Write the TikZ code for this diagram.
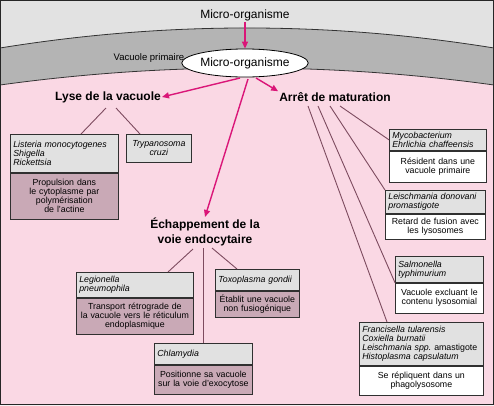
\documentclass[tikz,border=0pt]{standalone}
\usepackage{fontspec}
\setmainfont{Liberation Sans}
\usetikzlibrary{arrows.meta,shapes.geometric}
\definecolor{outergray}{HTML}{E2E2E2}
\definecolor{bandgray}{HTML}{B4B4B4}
\definecolor{pinkbg}{HTML}{FAD8E4}
\definecolor{spgray}{HTML}{E1E1E1}
\definecolor{mauve}{HTML}{C9A9B6}
\definecolor{conn}{HTML}{7D4B5F}
\definecolor{magent}{HTML}{DA1678}
\definecolor{boxline}{HTML}{303030}
\tikzset{
  arr/.style={draw=magent, line width=1.4pt, -{Triangle[length=7pt,width=6pt]}},
  cn/.style={draw=conn, line width=0.9pt},
  head/.style={font=\fontsize{12}{14.5}\selectfont\bfseries, align=center, inner sep=1pt},
  sp/.style={draw=boxline, line width=0.7pt, fill=spgray, anchor=north west, inner xsep=3pt, inner ysep=1pt, font=\fontsize{8.8}{8.8}\selectfont\itshape, align=left},
  dsm/.style={draw=boxline, line width=0.7pt, fill=mauve, anchor=north west, inner xsep=3pt, inner ysep=1pt, font=\fontsize{8.8}{9}\selectfont, align=center},
  dsw/.style={dsm, fill=white},
}
\begin{document}
\begin{tikzpicture}[x=1pt,y=-1pt]
\useasboundingbox (0,0) rectangle (494,405);
% background
\fill[outergray] (0,0) rectangle (494,405);
\fill[bandgray] (0,48) .. controls (165,21.3) and (329,21.3) .. (494,48) -- (494,405) -- (0,405) -- cycle;
\fill[pinkbg] (0,85) .. controls (165,62.3) and (329,62.3) .. (494,85) -- (494,405) -- (0,405) -- cycle;
\draw[line width=0.8pt, black!80] (0,48) .. controls (165,21.3) and (329,21.3) .. (494,48);
\draw[line width=0.8pt, black!80] (0,85) .. controls (165,62.3) and (329,62.3) .. (494,85);
\draw[line width=1.4pt, black!85] (0.7,0.7) rectangle (493.3,404.3);

% top
\node[font=\fontsize{12}{14}\selectfont, inner sep=1pt] (mo1) at (245,15) {Micro-organisme};
\node[ellipse, draw=black, line width=0.8pt, fill=white, minimum width=106pt, minimum height=28pt, inner sep=0pt, font=\fontsize{12}{14}\selectfont] (mo2) at (245,63) {Micro-organisme};
\node[font=\fontsize{9.5}{11}\selectfont, inner sep=0pt] (vp) at (149,58) {Vacuole primaire};
\draw[arr] (mo1.south) -- (mo2.north);

% headings
\node[head] (lyse) at (108,97) {Lyse de la vacuole};
\node[head] (arret) at (335,97) {Arrêt de maturation};
\node[head] (echap) at (205,232) {Échappement de la\\voie endocytaire};
\coordinate (s1) at (240,78);
\coordinate (s2) at (256,78);
\coordinate (s3) at (248,79);
\draw[arr] (s1) -- (lyse.east);
\draw[arr] (s2) -- (arret.north west);
\draw[arr] (s3) -- (echap.north);

% Lyse boxes
\node[sp, minimum width=108pt, text width=102pt, minimum height=38pt] (lis) at (10,134) {Listeria monocytogenes\\Shigella\\Rickettsia};
\node[dsm, minimum width=108pt, text width=102pt, minimum height=46pt] (lisd) at (lis.south west) {Propulsion dans\\le cytoplasme par\\polymérisation\\de l’actine};
\node[sp, minimum width=65pt, text width=59pt, minimum height=28pt, align=center] (try) at (126,134) {Trypanosoma\\cruzi};
\coordinate (l1) at (106,108);
\coordinate (l2) at (116,108);
\draw[cn] (l1) -- (lis.north -| 81,0);
\draw[cn] (l2) -- (try.north -| 140,0);

% Arret boxes
\node[sp, minimum width=97pt, text width=91pt, minimum height=21pt] (myc) at (389,129) {Mycobacterium\\Ehrlichia chaffeensis};
\node[dsw, minimum width=97pt, text width=91pt, minimum height=31pt] (mycd) at (myc.south west) {Résident dans une\\vacuole primaire};
\node[sp, minimum width=100pt, text width=94pt, minimum height=23pt] (lei) at (385,190) {Leischmania donovani\\promastigote};
\node[dsw, minimum width=100pt, text width=94pt, minimum height=25pt] (leid) at (lei.south west) {Retard de fusion avec\\les lysosomes};
\node[sp, minimum width=88pt, text width=82pt, minimum height=26pt] (sal) at (395,256) {Salmonella\\typhimurium};
\node[dsw, minimum width=88pt, text width=82pt, minimum height=30pt] (sald) at (sal.south west) {Vacuole excluant le\\contenu lysosomial};
\node[sp, minimum width=124pt, text width=118pt, minimum height=43pt] (fra) at (359,322) {Francisella tularensis\\Coxiella burnatii\\Leischmania spp.\ \upshape amastigote\\\itshape Histoplasma capsulatum};
\node[dsw, minimum width=124pt, text width=118pt, minimum height=29pt] (frad) at (fra.south west) {Se répliquent dans un\\phagolysosome};
\coordinate (a1) at (308,106);
\coordinate (a2) at (318,106);
\coordinate (a3) at (330,106);
\coordinate (a4) at (340,106);
\draw[cn] (a1) -- (fra.north -| 387,0);
\draw[cn] (a2) -- (sald.north west);
\draw[cn] (a3) -- (lei.north west);
\draw[cn] (a4) -- (myc.west);

% Echappement boxes
\node[sp, minimum width=117pt, text width=111pt, minimum height=25pt] (leg) at (76,272) {Legionella\\pneumophila};
\node[dsm, minimum width=117pt, text width=111pt, minimum height=36pt] (legd) at (leg.south west) {Transport rétrograde de\\la vacuole vers le réticulum\\endoplasmique};
\node[sp, minimum width=84pt, text width=78pt, minimum height=21pt] (tox) at (215,269) {Toxoplasma gondii};
\node[dsm, minimum width=84pt, text width=78pt, minimum height=26pt] (toxd) at (tox.south west) {Établit une vacuole\\non fusiogénique};
\node[sp, minimum width=98pt, text width=92pt, minimum height=21pt] (chl) at (154,343) {Chlamydia};
\node[dsm, minimum width=98pt, text width=92pt, minimum height=29pt] (chld) at (chl.south west) {Positionne sa vacuole\\sur la voie d’exocytose};
\coordinate (e1) at (193,249);
\coordinate (e2) at (203,248);
\coordinate (e3) at (212,248);
\draw[cn] (e1) -- (leg.north -| 168,0);
\draw[cn] (e2) -- (chl.north -| 203,0);
\draw[cn] (e3) -- (tox.north -| 237,0);
\end{tikzpicture}
\end{document}
